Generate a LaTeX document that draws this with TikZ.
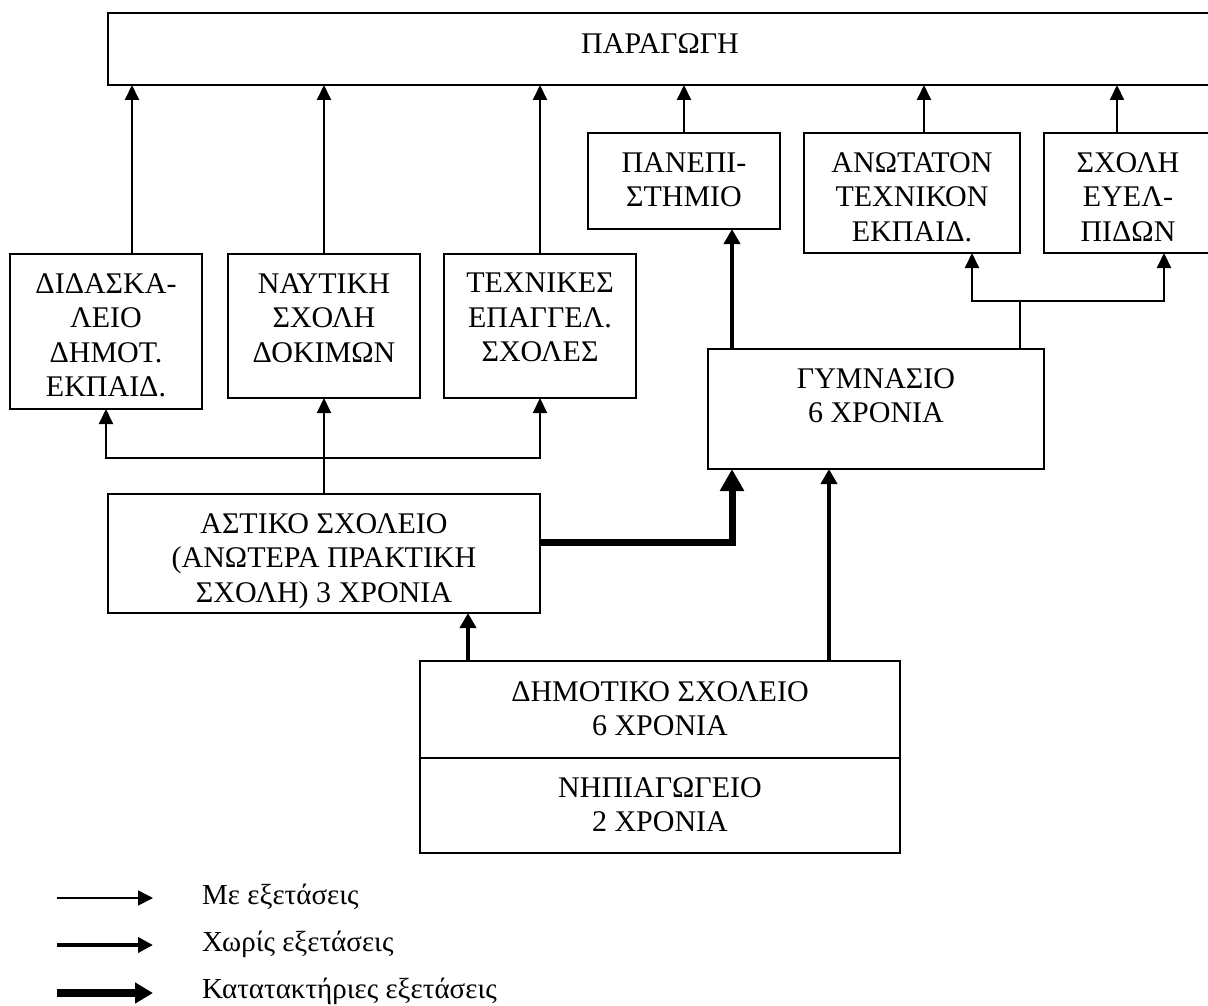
\documentclass[tikz,border=0pt]{standalone}
\usepackage{fontspec}
\setmainfont{Liberation Serif}
\usetikzlibrary{arrows.meta}
\tikzset{
  box/.style={draw, line width=1.8pt, rectangle, inner sep=0pt, outer sep=0pt, anchor=north west},
  txt/.style={inner sep=0pt, align=center, anchor=north, font=\fontsize{30}{34.5}\selectfont},
  legtxt/.style={inner sep=0pt, anchor=base west, font=\fontsize{29}{33}\selectfont},
  arrA/.style={line width=2pt, -{Triangle[length=15pt,width=14pt]}},
  arrB/.style={line width=4.8pt, -{Triangle[length=15pt,width=16pt]}},
  arrC/.style={line width=7pt, -{Triangle[length=22pt,width=23pt]}},
  stem/.style={line width=1.3pt},
}
\begin{document}
\begin{tikzpicture}[x=1pt,y=-1pt]
\useasboundingbox (0,0) rectangle (1208,1006);
% boxes
\node[box, minimum width=1104pt, minimum height=72pt] (par) at (108,13) {};
\node[box, minimum width=192pt, minimum height=155pt] (dida) at (10,254) {};
\node[box, minimum width=192pt, minimum height=144pt] (nav) at (228,254) {};
\node[box, minimum width=192pt, minimum height=144pt] (tech) at (444,254) {};
\node[box, minimum width=192pt, minimum height=96pt] (pan) at (588,133) {};
\node[box, minimum width=216pt, minimum height=120pt] (anot) at (804,133) {};
\node[box, minimum width=168pt, minimum height=120pt] (sch) at (1044,133) {};
\node[box, minimum width=336pt, minimum height=120pt] (gym) at (708,349) {};
\node[box, minimum width=432pt, minimum height=119pt] (ast) at (108,494) {};
\node[box, minimum width=480pt, minimum height=97pt] (dim) at (420,661) {};
\node[box, minimum width=480pt, minimum height=95pt] (nip) at (420,758) {};
% texts
\node[txt] (par-t) at ([yshift=-20pt]par.north) {ΠΑΡΑΓΩΓΗ};
\node[txt] (dida-t) at ([yshift=-19pt]dida.north) {ΔΙΔΑΣΚΑ-\\ΛΕΙΟ\\ΔΗΜΟΤ.\\ΕΚΠΑΙΔ.};
\node[txt] (nav-t) at ([yshift=-19pt]nav.north) {ΝΑΥΤΙΚΗ\\ΣΧΟΛΗ\\ΔΟΚΙΜΩΝ};
\node[txt] (tech-t) at ([yshift=-19pt]tech.north) {ΤΕΧΝΙΚΕΣ\\ΕΠΑΓΓΕΛ.\\ΣΧΟΛΕΣ};
\node[txt] (pan-t) at ([yshift=-19pt]pan.north) {ΠΑΝΕΠΙ-\\ΣΤΗΜΙΟ};
\node[txt] (anot-t) at ([yshift=-19pt]anot.north) {ΑΝΩΤΑΤΟΝ\\ΤΕΧΝΙΚΟΝ\\ΕΚΠΑΙΔ.};
\node[txt] (sch-t) at ([yshift=-19pt]sch.north) {ΣΧΟΛΗ\\ΕΥΕΛ-\\ΠΙΔΩΝ};
\node[txt] (gym-t) at ([yshift=-19pt]gym.north) {ΓΥΜΝΑΣΙΟ\\6 ΧΡΟΝΙΑ};
\node[txt] (ast-t) at ([yshift=-19pt]ast.north) {ΑΣΤΙΚΟ ΣΧΟΛΕΙΟ\\(ΑΝΩΤΕΡΑ ΠΡΑΚΤΙΚΗ\\ΣΧΟΛΗ) 3 ΧΡΟΝΙΑ};
\node[txt] (dim-t) at ([yshift=-20pt]dim.north) {ΔΗΜΟΤΙΚΟ ΣΧΟΛΕΙΟ\\6 ΧΡΟΝΙΑ};
\node[txt] (nip-t) at ([yshift=-19pt]nip.north) {ΝΗΠΙΑΓΩΓΕΙΟ\\2 ΧΡΟΝΙΑ};
% arrows to ΠΑΡΑΓΩΓΗ
\coordinate (d1) at ([xshift=26pt]dida.north);
\draw[arrA] (d1) -- (d1 |- par.south);
\draw[arrA] (nav.north) -- (nav.north |- par.south);
\draw[arrA] (tech.north) -- (tech.north |- par.south);
\draw[arrA] (pan.north) -- (pan.north |- par.south);
\coordinate (a0) at ([xshift=12pt]anot.north);
\draw[arrA] (a0) -- (a0 |- par.south);
\coordinate (s0) at ([xshift=-11pt]sch.north);
\draw[arrA] (s0) -- (s0 |- par.south);
% ΓΥΜΝΑΣΙΟ -> ΠΑΝΕΠΙΣΤΗΜΙΟ
\coordinate (g1) at ([xshift=24pt]gym.north west);
\draw[arrB] (g1) -- (g1 |- pan.south);
% ΓΥΜΝΑΣΙΟ -> ΑΝΩΤΑΤΟΝ, ΣΧΟΛΗ ΕΥΕΛΠΙΔΩΝ
\coordinate (g2) at ([xshift=-24pt]gym.north east);
\coordinate (j1) at ([yshift=48pt]g2);
\coordinate (a1) at ([xshift=-48pt]anot.south east);
\coordinate (s1) at ([xshift=120pt]sch.south west);
\draw[stem] (g2) -- (j1);
\draw[arrA] (j1) -| (a1);
\draw[arrA] (j1) -| (s1);
% ΑΣΤΙΚΟ -> ΔΙΔΑΣΚΑΛΕΙΟ, ΝΑΥΤΙΚΗ, ΤΕΧΝΙΚΕΣ
\coordinate (j2) at ([yshift=36pt]ast.north);
\draw[stem] (ast.north) -- (j2);
\draw[arrA] (j2) -| (dida.south);
\draw[arrA] (j2) -| (tech.south);
\draw[arrA] (j2) -- (nav.south);
% ΑΣΤΙΚΟ -> ΓΥΜΝΑΣΙΟ (thick)
\coordinate (k1) at ([yshift=11.5pt]ast.east);
\draw[arrC] (k1) -| (g1 |- gym.south);
% ΔΗΜΟΤΙΚΟ -> ΑΣΤΙΚΟ, ΓΥΜΝΑΣΙΟ
\coordinate (m1) at ([xshift=48pt]dim.north west);
\draw[arrB] (m1) -- (m1 |- ast.south);
\coordinate (m2) at ([xshift=-71pt]dim.north east);
\draw[arrB] (m2) -- (m2 |- gym.south);
% legend
\coordinate (l1s) at (57,898); \coordinate (l1e) at (153,898);
\coordinate (l2s) at (57,945); \coordinate (l2e) at (153,945);
\coordinate (l3s) at (57,993); \coordinate (l3e) at (153,993);
\draw[line width=1.6pt, -{Triangle[length=15pt,width=15pt]}] (l1s) -- (l1e);
\draw[line width=4pt, -{Triangle[length=15pt,width=15pt]}] (l2s) -- (l2e);
\draw[line width=8pt, -{Triangle[length=18pt,width=20pt]}] (l3s) -- (l3e);
\node[legtxt] (leg1) at (202,904) {Με εξετάσεις};
\node[legtxt] (leg2) at (202,951) {Χωρίς εξετάσεις};
\node[legtxt] (leg3) at (202,998) {Κατατακτήριες εξετάσεις};
\end{tikzpicture}
\end{document}
